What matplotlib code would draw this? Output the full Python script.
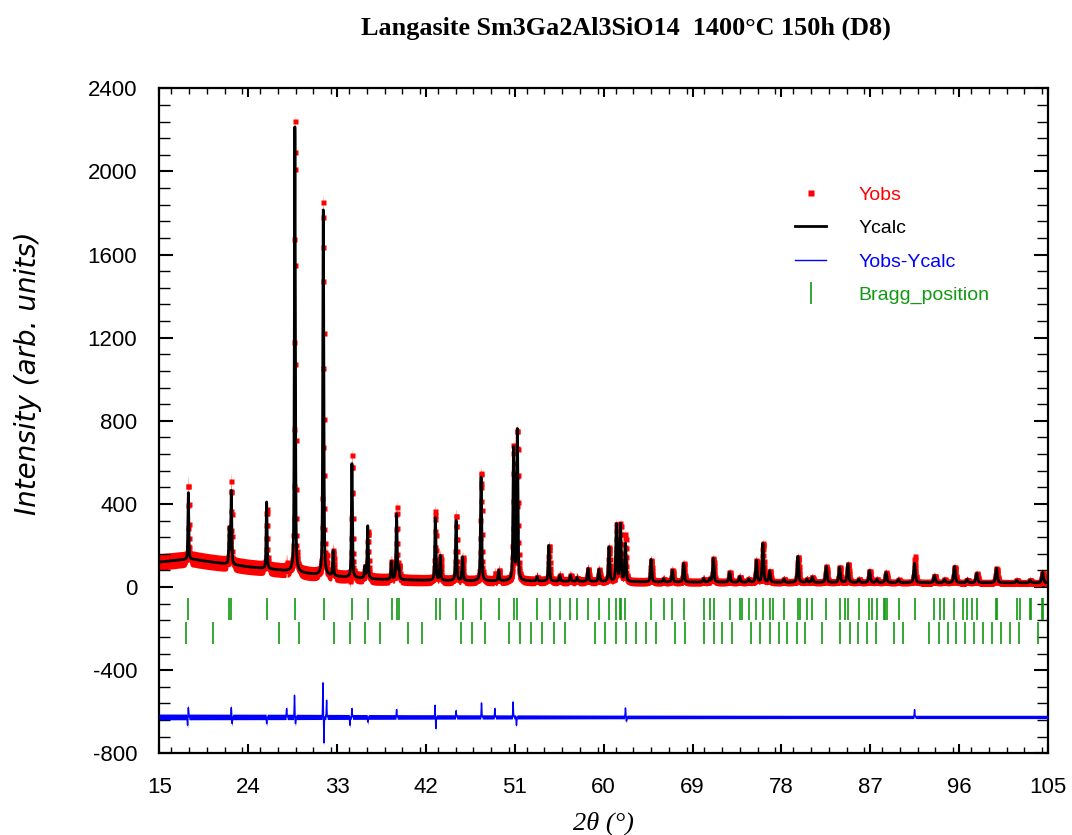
import numpy as np
import matplotlib
matplotlib.use("Agg")
import matplotlib.pyplot as plt
from matplotlib.lines import Line2D
from matplotlib.ticker import MultipleLocator

plt.rcParams["axes.unicode_minus"] = False

# ---------------- data ----------------
title = "Langasite Sm3Ga2Al3SiO14  1400°C 150h (D8)"

# background of the calculated profile (2theta, intensity)
bg_x = [15, 17, 18.5, 20, 24, 27, 29, 31, 34, 37, 41, 45, 55, 65, 80, 105]
bg_y = [120, 130, 133, 122, 97, 82, 70, 58, 47, 37, 33, 30, 28, 24, 22, 20]

# calculated peaks: position (deg) and height above background
peak_pos = [17.93, 22.07, 22.28, 25.86, 28.72, 31.60, 32.60, 34.50, 35.81, 36.10,
            38.50, 39.02, 39.25, 42.95, 43.45, 45.05, 45.70, 47.58, 49.37, 50.87,
            51.25, 53.25, 54.45, 55.55, 56.63, 57.30, 58.41, 59.52, 60.54, 61.29,
            61.70, 62.20, 64.80, 66.07, 66.95, 68.10, 70.12, 70.73, 71.10, 72.75,
            73.77, 74.68, 75.46, 76.12, 76.80, 78.25, 79.67, 80.58, 81.12, 82.54,
            83.89, 84.73, 85.84, 86.92, 87.66, 88.60, 89.86, 91.48, 93.50, 94.51,
            95.53, 96.81, 97.78, 99.78, 101.83, 103.19, 104.45]
peak_amp = [322, 170, 352, 321, 2142, 1758, 120, 548, 55, 253,
            85, 314, 60, 301, 118, 290, 113, 498, 50, 635,
            723, 20, 171, 28, 28, 18, 62, 57, 165, 274,
            274, 182, 108, 15, 57, 90, 17, 15, 114, 48,
            27, 15, 105, 186, 54, 15, 125, 15, 25, 77,
            73, 89, 15, 57, 15, 49, 15, 94, 34, 15,
            78, 15, 45, 70, 12, 12, 50]

# difference (Yobs - Ycalc) features: position and value
diff_pos = [17.85, 17.93, 22.28, 22.36, 25.86, 27.88, 28.68, 28.78, 31.56, 31.66,
            31.93, 34.29, 34.50, 36.10, 39.02, 42.92, 43.00, 45.05, 47.62, 48.97,
            50.82, 51.16, 62.20, 62.30, 91.48]
diff_val = [-40, 45, 45, -32, -32, 40, 104, -32, 164, -125,
            80, -40, 40, -25, 35, 56, -56, 30, 67, 40,
            72, -40, 43, -20, 35]
diff_offset = -625

# spread of the observed points and of the difference curve
spread_x = [15, 28, 40, 60, 80, 105]
obs_spread = [40, 36, 28, 22, 18, 16]
diff_spread = [14, 13, 11, 9, 8, 8]

# Bragg reflection positions (two phases)
bragg_1 = [17.93, 22.07, 22.28, 25.86, 28.72, 31.66, 34.52, 36.14, 38.57, 39.02,
           39.25, 42.97, 43.47, 45.09, 45.70, 47.62, 49.37, 50.89, 51.26, 53.25,
           54.53, 55.55, 56.63, 57.30, 58.41, 59.52, 60.54, 61.29, 61.62, 61.79,
           62.20, 64.83, 66.07, 66.95, 68.10, 70.12, 70.73, 71.13, 72.75, 73.77,
           74.00, 74.68, 75.46, 76.12, 76.80, 77.14, 78.25, 79.67, 79.91, 80.58,
           81.12, 82.54, 83.89, 84.39, 84.73, 85.84, 86.92, 87.16, 87.66, 88.34,
           88.51, 88.67, 89.86, 91.48, 93.50, 94.08, 94.51, 95.53, 96.37, 96.81,
           97.28, 97.78, 99.75, 99.81, 101.83, 102.18, 103.19, 103.29, 104.36, 104.53]
bragg_2 = [17.66, 20.46, 27.11, 29.13, 32.67, 34.29, 35.81, 37.33, 40.19, 41.61,
           45.50, 46.71, 47.96, 50.38, 51.50, 52.68, 53.80, 54.94, 56.05, 59.16,
           60.17, 61.29, 62.30, 63.31, 64.32, 65.33, 67.19, 68.20, 70.12, 71.13,
           72.01, 72.99, 74.88, 75.79, 76.80, 77.71, 78.55, 79.56, 80.41, 82.14,
           83.96, 84.90, 85.74, 86.65, 87.53, 89.38, 90.29, 92.93, 93.94, 94.85,
           95.70, 96.61, 97.48, 98.46, 99.34, 100.25, 101.16, 102.11, 103.96]
bragg_row1 = (-160, -55)
bragg_row2 = (-272, -169)

x_ticks = [15, 24, 33, 42, 51, 60, 69, 78, 87, 96, 105]
y_ticks = [-800, -400, 0, 400, 800, 1200, 1600, 2000, 2400]

# ---------------- profile model ----------------
tt = np.arange(15.0, 105.0001, 0.01)
ycalc = np.interp(tt, bg_x, bg_y).astype(float)
for p, a in zip(peak_pos, peak_amp):
    w = 0.10 + 0.0012 * (p - 15)
    d = (tt - p) / w
    ycalc += a * (0.5 / (1 + 4 * d ** 2) + 0.5 * np.exp(-4 * np.log(2) * d ** 2))
diff = np.zeros_like(tt)
for p, v in zip(diff_pos, diff_val):
    diff += v * np.exp(-0.5 * ((tt - p) / 0.025) ** 2)
yobs = ycalc + diff
hw_obs = np.interp(tt, spread_x, obs_spread)
hw_diff = np.interp(tt, spread_x, diff_spread)

# ---------------- figure ----------------
fig = plt.figure(figsize=(10.72, 8.35), dpi=100)
ax = fig.add_axes([159.4 / 1072, 1 - 753.3 / 835, (1048 - 159.4) / 1072, (753.3 - 88.3) / 835])

red = "#ff0000"
green = "#119911"
blue = "#0000ff"

ax.fill_between(tt, yobs - hw_obs, yobs + hw_obs, color=red, lw=0, zorder=1)
ax.plot(tt[::2], yobs[::2], ls="none", marker="s", ms=3.6, mec="none", mfc=red, zorder=2)
ax.plot(tt, ycalc, color="black", lw=2.0, zorder=3)
ax.fill_between(tt, diff_offset + diff - hw_diff, diff_offset + diff + hw_diff,
                color=blue, lw=0, zorder=3)
ax.plot(tt, diff_offset + diff, color=blue, lw=1.0, zorder=4)
ax.vlines(bragg_1, bragg_row1[0], bragg_row1[1], color=green, lw=1.2, zorder=3)
ax.vlines(bragg_2, bragg_row2[0], bragg_row2[1], color=green, lw=1.2, zorder=3)

ax.set_xlim(15, 105)
ax.set_ylim(-800, 2400)
ax.set_xticks(x_ticks)
ax.set_yticks(y_ticks)
ax.xaxis.set_minor_locator(MultipleLocator(1.8))
ax.yaxis.set_minor_locator(MultipleLocator(80))
for s in ax.spines.values():
    s.set_linewidth(1.6)

ax.tick_params(axis="x", which="major", direction="in", length=6.5, width=1.5,
               top=True, pad=17, labelsize=16)
ax.tick_params(axis="x", which="minor", direction="in", length=4.3, width=1.0, top=True)
ax.tick_params(axis="y", which="major", direction="in", length=10, width=1.5,
               right=True, pad=16, labelsize=16)
ax.tick_params(axis="y", which="minor", direction="in", length=8, width=1.0, right=True)
for lab in ax.get_xticklabels() + ax.get_yticklabels():
    lab.set_family("Liberation Sans")

handles = [
    Line2D([], [], ls="none", marker="s", ms=4, mec="none", mfc=red),
    Line2D([], [], color="black", lw=2.0),
    Line2D([], [], color=blue, lw=1.0),
    Line2D([], [], ls="none", marker="|", ms=16, mew=1.2, color=green),
]
labels = ["Yobs", "Ycalc", "Yobs-Ycalc", "Bragg_position"]
ax.legend(handles, labels, loc="upper left", bbox_to_anchor=(795 / 1072, 1 - 186 / 835),
          bbox_transform=fig.transFigure, frameon=False, borderpad=0, borderaxespad=0,
          handlelength=1.6, handletextpad=1.65, labelspacing=0.82,
          labelcolor=[red, "black", blue, green],
          prop={"family": "Liberation Sans", "size": 14})

fig.text(626 / 1072, 1 - 28 / 835, title, ha="center", va="center",
         fontsize=18.8, fontweight="bold", family="Liberation Serif")
fig.text(28 / 1072, 1 - 373 / 835, "Intensity (arb. units)", rotation=90,
         ha="center", va="center", fontsize=20, style="italic", family="DejaVu Sans")
fig.text(603 / 1072, 1 - 812 / 835, "2θ (°)", ha="center", va="top",
         fontsize=19, style="italic", family="Liberation Serif")

fig.savefig("out.png", dpi=100)
